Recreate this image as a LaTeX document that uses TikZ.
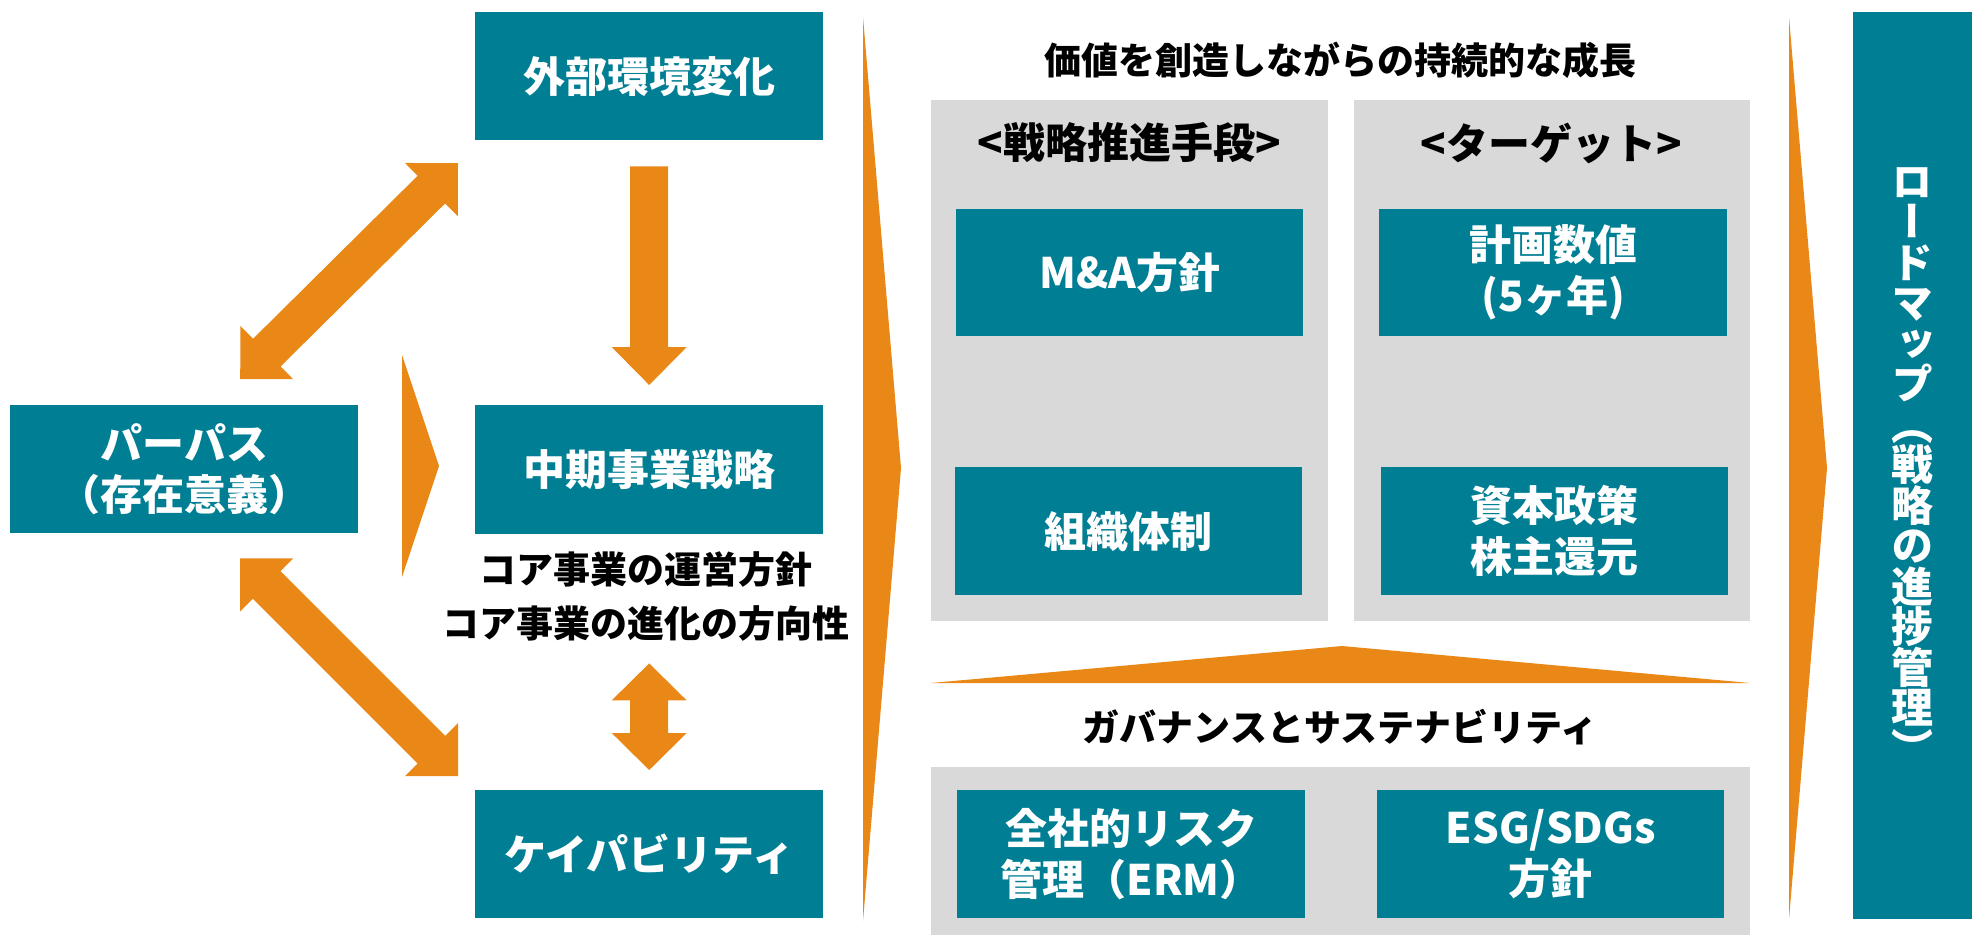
\documentclass[tikz,border=0pt]{standalone}
\usepackage{fontspec}
\setmainfont{Noto Sans CJK JP}
\newfontfamily\vfont{Noto Sans CJK JP}[RawFeature=+vert]
\usetikzlibrary{calc}
\definecolor{tealbox}{RGB}{0,126,148}
\definecolor{orng}{RGB}{233,136,22}
\definecolor{panelgray}{RGB}{217,217,217}
\tikzset{
  box/.style={fill=tealbox, text=white, font=\bfseries\fontsize{42}{51}\selectfont,
    align=center, inner sep=0pt, anchor=north west, minimum width=348pt, minimum height=128pt},
  panel/.style={fill=panelgray, inner sep=0pt, anchor=north west},
  lbl/.style={text=black, font=\bfseries\fontsize{37}{54}\selectfont, align=center, inner sep=0pt},
  hdr/.style={text=black, font=\bfseries\fontsize{42}{50}\selectfont, align=center, inner sep=0pt},
  blockfill/.style={fill=orng},
}
% single block arrow: #1 start, #2 tip, #3 shaft half width, #4 head half width, #5 head length
\newcommand\blocksingle[5]{%
  \coordinate (bbx) at ($(#2)!#5!(#1)$);
  \fill[blockfill] ($(#1)!#3!90:(#2)$) -- ($(bbx)!#3!90:(#2)$) -- ($(bbx)!#4!90:(#2)$) -- (#2)
    -- ($(bbx)!#4!-90:(#2)$) -- ($(bbx)!#3!-90:(#2)$) -- ($(#1)!#3!-90:(#2)$) -- cycle;}
% double block arrow: #1 tip A, #2 tip B
\newcommand\blockdouble[5]{%
  \coordinate (bax) at ($(#1)!#5!(#2)$);
  \coordinate (bbx) at ($(#2)!#5!(#1)$);
  \fill[blockfill] (#1) -- ($(bax)!#4!90:(#1)$) -- ($(bax)!#3!90:(#1)$) -- ($(bbx)!#3!-90:(#2)$)
    -- ($(bbx)!#4!-90:(#2)$) -- (#2) -- ($(bbx)!#4!90:(#2)$) -- ($(bbx)!#3!90:(#2)$)
    -- ($(bax)!#3!-90:(#1)$) -- ($(bax)!#4!-90:(#1)$) -- cycle;}
\begin{document}
\begin{tikzpicture}[x=1pt,y=-1pt]
\useasboundingbox (0,0) rectangle (1972,935);
% left part
\node[box] (purp) at (10,405) {パーパス\\（存在意義）};
\node[box] (ext) at (475,12) {外部環境変化};
\node[box, minimum height=129pt] (mid) at (475,405) {中期事業戦略};
\node[box] (cap) at (475,790) {ケイパビリティ};
\node[lbl] (core) at (646,596) {コア事業の運営方針\\コア事業の進化の方向性};
% arrows in the left part
\coordinate (dA) at ($(ext.south)+(0,26)$);
\coordinate (dB) at ($(mid.north)+(0,-20)$);
\blocksingle{dA}{dB}{19pt}{37.5pt}{38pt}
\coordinate (vA) at ($(mid.south)+(0,129)$);
\coordinate (vB) at ($(cap.north)+(0,-20)$);
\blockdouble{vA}{vB}{19pt}{37.5pt}{37pt}
\coordinate (u1) at ($(ext.west)+(-17,87)$);
\coordinate (u2) at ($(purp.north)+(56,-26)$);
\blockdouble{u1}{u2}{19.5pt}{37.5pt}{37.5pt}
\coordinate (l1) at ($(purp.south)+(56,25)$);
\coordinate (l2) at ($(cap.west)+(-17,-78)$);
\blockdouble{l1}{l2}{19.5pt}{37.5pt}{37.5pt}
\fill[blockfill] (402,355) -- (439,466) -- (402,577) -- cycle;
% big chevrons
\fill[blockfill] (863,17) -- (901,468) -- (863,921) -- cycle;
\fill[blockfill] (1789,17) -- (1827,468) -- (1789,919) -- cycle;
% right part
\node[lbl] (title) at (1340,60) {価値を創造しながらの持続的な成長};
\node[panel, minimum width=397pt, minimum height=521pt] (pl) at (931,100) {};
\node[panel, minimum width=396pt, minimum height=521pt] (pr) at (1354,100) {};
\node[hdr] (hl) at (1129,143) {<戦略推進手段>};
\node[hdr] (hr) at (1551,143) {<ターゲット>};
\node[box, minimum width=347pt, minimum height=127pt] (ma) at (956,209) {M\&A方針};
\node[box, minimum width=348pt, minimum height=127pt] (plan) at (1379,209) {計画数値\\(5ヶ年)};
\node[box, minimum width=347pt] (org) at (955,467) {組織体制};
\node[box, minimum width=347pt] (capi) at (1381,467) {資本政策\\株主還元};
\fill[blockfill] (931,683) -- (1342,646) -- (1750,683) -- cycle;
\node[lbl] (gov) at (1340,727) {ガバナンスとサステナビリティ};
\node[panel, minimum width=819pt, minimum height=168pt] (pb) at (931,767) {};
\node[box] (erm) at (957,790) {全社的リスク\\管理（ERM）};
\node[box, minimum width=347pt] (esg) at (1377,790) {ESG/SDGs\\方針};
\node[box, minimum width=119pt, minimum height=907pt] (road) at (1853,12) {};
\node[text=white, font=\vfont\bfseries\fontsize{42}{40.5}\selectfont, align=center, inner sep=0pt]
  at (road.center) {ロ\\ー\\ド\\マ\\ッ\\プ\\（\\戦\\略\\の\\進\\捗\\管\\理\\）};
\end{tikzpicture}
\end{document}
